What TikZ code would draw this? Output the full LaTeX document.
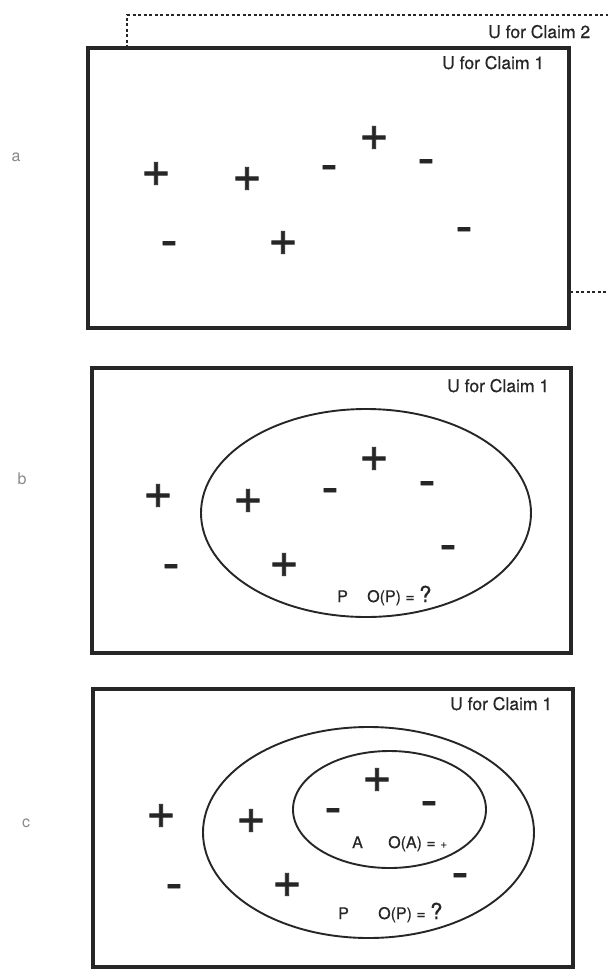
\documentclass[tikz,border=0pt]{standalone}
\usepackage{fontspec}
\setmainfont{TeX Gyre Heros}
\definecolor{ink}{HTML}{262626}
\definecolor{lab}{HTML}{8A8A8A}
\begin{document}
\begin{tikzpicture}[x=1pt,y=-1pt,
  frame/.style={draw=ink,line width=3.2pt},
  setline/.style={draw=ink,line width=1.9pt},
  dashline/.style={draw=ink,line width=2pt,dash pattern=on 3pt off 2.5pt},
  mk/.style={text=ink,font=\fontsize{50}{50}\selectfont\addfontfeature{FakeBold=1.6},inner sep=0pt,anchor=base,yshift=-13pt},
  ulab/.style={text=ink,font=\fontsize{17.5}{18}\selectfont\addfontfeature{FakeBold=0.4},inner sep=0pt,anchor=base west},
  stxt/.style={text=ink,font=\fontsize{16}{18}\selectfont\addfontfeature{FakeBold=0.4},inner sep=0pt,anchor=base west},
  plab/.style={text=lab,font=\fontsize{16}{16}\selectfont,inner sep=0pt}]
\useasboundingbox (0,0) rectangle (608,970);
\fill[white] (0,0) rectangle (608,970);

% ---------- panel a ----------
\draw[dashline] (127,48) -- (127,15) -- (608,15);
\draw[dashline] (570,292) -- (608,292);
\draw[frame] (88,48) rectangle (569,328);
\node[ulab] (c2) at (488,38) {U for Claim 2};
\node[ulab] (ua) at (442,69) {U for Claim 1};
\node[plab] (la) at (16,157) {a};
\node[mk] (a1) at (156,173) {+};
\node[mk] (a2) at (247,178) {+};
\node[mk] (a3) at (329,168) {-};
\node[mk] (a4) at (374,137) {+};
\node[mk] (a5) at (426,162) {-};
\node[mk] (a6) at (169,244) {-};
\node[mk] (a7) at (283,242) {+};
\node[mk] (a8) at (464,230) {-};

% ---------- panel b ----------
\draw[frame] (92,368) rectangle (571,653);
\draw[setline] (366,513) ellipse [x radius=165pt, y radius=104pt];
\node[ulab] (ub) at (447,392) {U for Claim 1};
\node[plab] (lb) at (22,479) {b};
\node[mk] (b1) at (158,495) {+};
\node[mk] (b2) at (248,500) {+};
\node[mk] (b3) at (330,491) {-};
\node[mk] (b4) at (374,458) {+};
\node[mk] (b5) at (427,484) {-};
\node[mk] (b6) at (448,548) {-};
\node[mk] (b7) at (171,567) {-};
\node[mk] (b8) at (284,564) {+};
\node[stxt] (bp) at (337,602) {P};
\node[stxt] (bo) at (367,602) {O(P) = {\fontsize{22}{22}\selectfont ?}};

% ---------- panel c ----------
\draw[frame] (93,689) rectangle (573,967);
\draw[setline] (368.5,832.5) ellipse [x radius=165.5pt, y radius=105.5pt];
\draw[setline] (389.5,809.5) ellipse [x radius=96.5pt, y radius=58.5pt];
\node[ulab] (uc) at (450,710) {U for Claim 1};
\node[plab] (lc) at (26,823) {c};
\node[mk] (c1) at (161,815) {+};
\node[mk] (c3) at (251,820) {+};
\node[mk] (c4) at (333,811) {-};
\node[mk] (c5) at (377,779) {+};
\node[mk] (c6) at (429,804) {-};
\node[mk] (c7) at (460,876) {-};
\node[mk] (c8) at (174,887) {-};
\node[mk] (c9) at (287,884) {+};
\node[stxt] (ca) at (352,848) {A};
\node[stxt] (cao) at (388,848) {O(A) = {\fontsize{12}{12}\selectfont +}};
\node[stxt] (cp) at (338,919) {P};
\node[stxt] (cpo) at (378,919) {O(P) = {\fontsize{22}{22}\selectfont ?}};
\end{tikzpicture}
\end{document}
